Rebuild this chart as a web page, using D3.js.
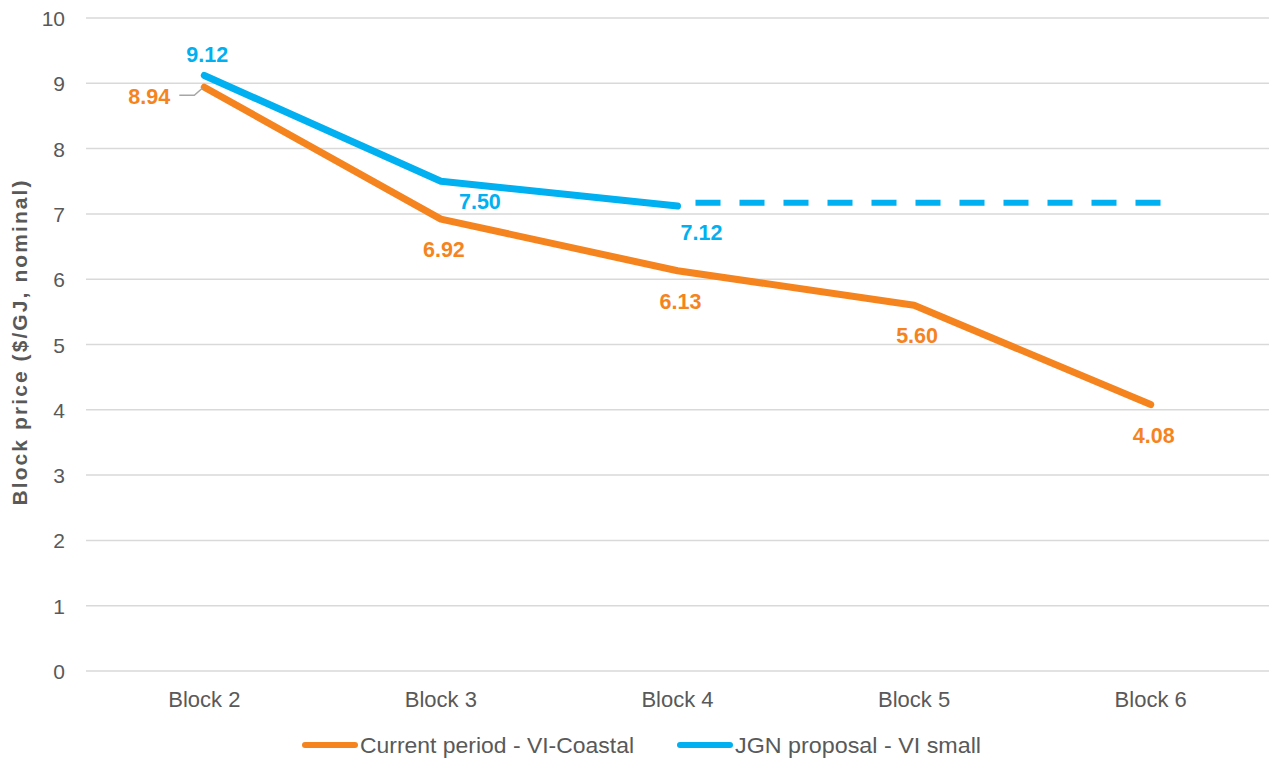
<!DOCTYPE html>
<html lang="en">
<head>
    <meta charset="UTF-8">
    <title>Block price chart</title>
    <script src="https://d3js.org/d3.v7.min.js"></script>
    <style>
        body {
            margin: 0;
            background: #fff;
        }

        svg {
            font-family: "Liberation Sans", Arial, sans-serif;
        }

        .grid line {
            stroke: #d9d9d9;
            stroke-width: 1.5px;
        }

        .tick-label {
            fill: #595959;
            font-size: 21px;
        }

        .cat-label {
            fill: #595959;
            font-size: 22px;
        }

        .data-label {
            font-size: 21.5px;
            font-weight: bold;
        }
    </style>
</head>
<body>
    <svg width="1269" height="760"></svg>

    <script>
        // Chart data
        const blocks = ["Block 2", "Block 3", "Block 4", "Block 5", "Block 6"];
        const currentPeriod = [8.94, 6.92, 6.13, 5.60, 4.08];
        const jgnProposal = [9.12, 7.50, 7.12, null, null];
        const jgnExtension = [null, null, 7.17, 7.17, 7.17];
        const yTicks = [0, 1, 2, 3, 4, 5, 6, 7, 8, 9, 10];

        const orange = "#f5841f";
        const blue = "#00b0f0";

        const svg = d3.select("svg");

        const x = d3.scalePoint()
            .domain(blocks)
            .range([86, 1269])
            .padding(0.5);

        const y = d3.scaleLinear()
            .domain([0, 10])
            .range([671, 18]);

        // horizontal gridlines
        svg.append("g")
            .attr("class", "grid")
            .selectAll("line")
            .data(yTicks)
            .enter().append("line")
            .attr("x1", 86)
            .attr("x2", 1269)
            .attr("y1", d => y(d))
            .attr("y2", d => y(d));

        // y tick labels
        svg.append("g")
            .selectAll("text")
            .data(yTicks)
            .enter().append("text")
            .attr("class", "tick-label")
            .attr("x", 65)
            .attr("y", d => y(d) + 8)
            .attr("text-anchor", "end")
            .text(d => d);

        // category labels
        svg.append("g")
            .selectAll("text")
            .data(blocks)
            .enter().append("text")
            .attr("class", "cat-label")
            .attr("x", d => x(d))
            .attr("y", 707)
            .attr("text-anchor", "middle")
            .text(d => d);

        // y axis title
        svg.append("text")
            .attr("transform", "translate(27,343) rotate(-90)")
            .attr("text-anchor", "middle")
            .attr("fill", "#595959")
            .attr("font-size", "21px")
            .attr("font-weight", "bold")
            .attr("textLength", 325)
            .attr("lengthAdjust", "spacing")
            .text("Block price ($/GJ, nominal)");

        const line = d3.line()
            .defined(d => d.v != null)
            .x(d => x(d.b))
            .y(d => y(d.v));

        const pts = arr => blocks.map((b, i) => ({ b: b, v: arr[i] }));

        // dashed extension of the JGN proposal (runs a little past Block 6)
        const ext = pts(jgnExtension).filter(d => d.v != null);
        svg.append("line")
            .attr("x1", x(ext[0].b))
            .attr("x2", x(ext[ext.length - 1].b) + 10)
            .attr("y1", y(ext[0].v))
            .attr("y2", y(ext[0].v))
            .attr("stroke", blue)
            .attr("stroke-width", 6)
            .attr("stroke-dasharray", "25,19")
            .attr("stroke-dashoffset", 26);

        svg.append("path")
            .datum(pts(currentPeriod))
            .attr("fill", "none")
            .attr("stroke", orange)
            .attr("stroke-width", 7)
            .attr("stroke-linecap", "round")
            .attr("stroke-linejoin", "round")
            .attr("d", line);

        svg.append("path")
            .datum(pts(jgnProposal))
            .attr("fill", "none")
            .attr("stroke", blue)
            .attr("stroke-width", 7)
            .attr("stroke-linecap", "round")
            .attr("stroke-linejoin", "round")
            .attr("d", line);

        // data labels - orange sits below each point, except the first one
        pts(currentPeriod).forEach((d, i) => {
            let lx = x(d.b) + 3, ly = y(d.v) + 38;
            if (i === 0) {
                lx = x(d.b) - 55;
                ly = y(d.v) + 17;
                // leader line
                svg.append("path")
                    .attr("d", `M${x(d.b) - 25},${y(d.v) + 8} H${x(d.b) - 10} L${x(d.b) - 2},${y(d.v) + 1}`)
                    .attr("fill", "none")
                    .attr("stroke", "#a6a6a6")
                    .attr("stroke-width", 1.5);
            }
            svg.append("text")
                .attr("class", "data-label")
                .attr("fill", orange)
                .attr("x", lx)
                .attr("y", ly)
                .attr("text-anchor", "middle")
                .text(d.v.toFixed(2));
        });

        const blueOffsets = [[3, -13.5], [39, 28], [24, 34]];
        pts(jgnProposal).filter(d => d.v != null).forEach((d, i) => {
            svg.append("text")
                .attr("class", "data-label")
                .attr("fill", blue)
                .attr("x", x(d.b) + blueOffsets[i][0])
                .attr("y", y(d.v) + blueOffsets[i][1])
                .attr("text-anchor", "middle")
                .text(d.v.toFixed(2));
        });

        // legend
        const legend = [
            { name: "Current period - VI-Coastal", color: orange, x: 302, w: 274 },
            { name: "JGN proposal - VI small", color: blue, x: 677, w: 246 }
        ];

        const lg = svg.append("g")
            .selectAll("g")
            .data(legend)
            .enter().append("g")
            .attr("transform", d => `translate(${d.x},745)`);

        lg.append("line")
            .attr("x1", 3)
            .attr("x2", 53)
            .attr("stroke", d => d.color)
            .attr("stroke-width", 6)
            .attr("stroke-linecap", "round");

        lg.append("text")
            .attr("x", 58)
            .attr("y", 8)
            .attr("fill", "#595959")
            .attr("font-size", "22px")
            .attr("textLength", d => d.w)
            .attr("lengthAdjust", "spacingAndGlyphs")
            .text(d => d.name);
    </script>
</body>
</html>
